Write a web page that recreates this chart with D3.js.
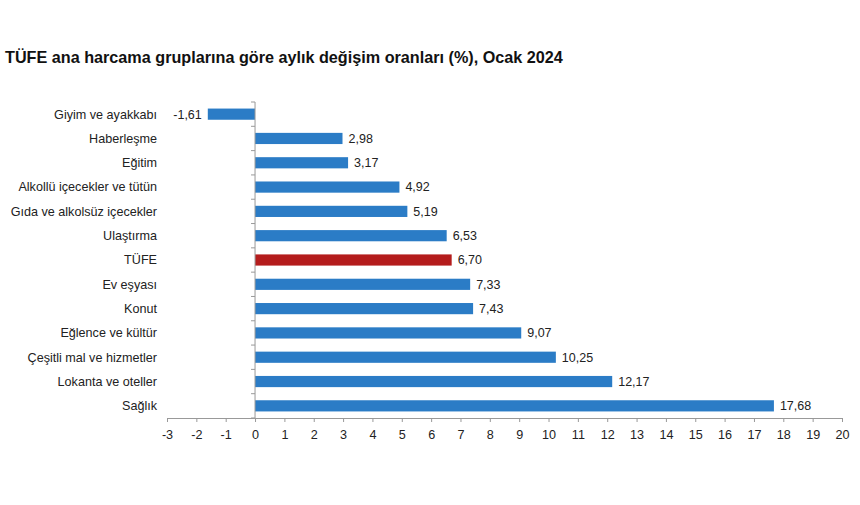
<!DOCTYPE html>
<html>
<head>
<meta charset="utf-8">
<script src="https://cdn.jsdelivr.net/npm/d3@7"></script>
<style>
  body { margin: 0; background: #fff; }
  svg { font-family: "Liberation Sans", Arial, sans-serif; }
</style>
</head>
<body>
<div class="chart"></div>
<script>
const categories = [
  "Giyim ve ayakkabı", "Haberleşme", "Eğitim", "Alkollü içecekler ve tütün",
  "Gıda ve alkolsüz içecekler", "Ulaştırma", "TÜFE", "Ev eşyası", "Konut",
  "Eğlence ve kültür", "Çeşitli mal ve hizmetler", "Lokanta ve oteller", "Sağlık"
];
const values = [-1.61, 2.98, 3.17, 4.92, 5.19, 6.53, 6.70, 7.33, 7.43, 9.07, 10.25, 12.17, 17.68];
const xTicks = d3.range(-3, 21);
const title = "TÜFE ana harcama gruplarına göre aylık değişim oranları (%), Ocak 2024";

const width = 860, height = 505;
const svg = d3.select(".chart").append("svg")
  .attr("width", width).attr("height", height);

svg.append("text")
  .attr("x", 5).attr("y", 63)
  .attr("font-size", 16.2).attr("font-weight", "bold").attr("fill", "#111")
  .text(title);

const x = d3.scaleLinear().domain([-3, 20]).range([167, 842]);
const y = d3.scaleBand().domain(categories).range([102, 418]).paddingInner(0.54).paddingOuter(0.27);

const data = categories.map((name, i) => ({ name, value: values[i] }));

svg.selectAll("rect.bar").data(data).enter()
  .append("rect")
  .attr("class", "bar")
  .attr("x", d => x(Math.min(0, d.value)))
  .attr("width", d => Math.abs(x(d.value) - x(0)))
  .attr("y", d => y(d.name))
  .attr("height", y.bandwidth())
  .attr("fill", d => d.name === "TÜFE" ? "#b41c1c" : "#2b7cc6");

// value labels
const fmt = v => v.toFixed(2).replace(".", ",");
svg.selectAll("text.val").data(data).enter()
  .append("text")
  .attr("class", "val")
  .attr("x", d => d.value < 0 ? x(d.value) - 6 : x(d.value) + 6)
  .attr("y", d => y(d.name) + y.bandwidth() / 2)
  .attr("dy", "0.35em")
  .attr("text-anchor", d => d.value < 0 ? "end" : "start")
  .attr("font-size", 12.5).attr("fill", "#222")
  .text(d => fmt(d.value));

// category labels
svg.selectAll("text.cat").data(data).enter()
  .append("text")
  .attr("class", "cat")
  .attr("x", 157)
  .attr("y", d => y(d.name) + y.bandwidth() / 2)
  .attr("dy", "0.35em")
  .attr("text-anchor", "end")
  .attr("font-size", 12.6).attr("fill", "#222")
  .text(d => d.name);

// x axis
const xAxis = svg.append("g")
  .attr("transform", "translate(0,418)")
  .call(d3.axisBottom(x).tickValues(xTicks).tickSize(4).tickPadding(8).tickFormat(d => String(d)));
xAxis.select(".domain").attr("stroke", "#999");
xAxis.selectAll(".tick line").attr("stroke", "#999");
xAxis.selectAll(".tick text")
  .attr("font-size", 12.6).attr("fill", "#222")
  .attr("font-family", "'Liberation Sans', Arial, sans-serif");

// vertical axis at zero with ticks between categories
const step = y.step();
const yTickPos = d3.range(categories.length + 1).map(i => y(categories[0]) - (step - y.bandwidth()) / 2 + i * step);
svg.append("line")
  .attr("x1", x(0)).attr("x2", x(0))
  .attr("y1", 102).attr("y2", 418)
  .attr("stroke", "#999");
svg.selectAll("line.ytick").data(yTickPos).enter()
  .append("line")
  .attr("class", "ytick")
  .attr("x1", x(0) - 4).attr("x2", x(0))
  .attr("y1", d => d).attr("y2", d => d)
  .attr("stroke", "#999");
</script>
</body>
</html>
